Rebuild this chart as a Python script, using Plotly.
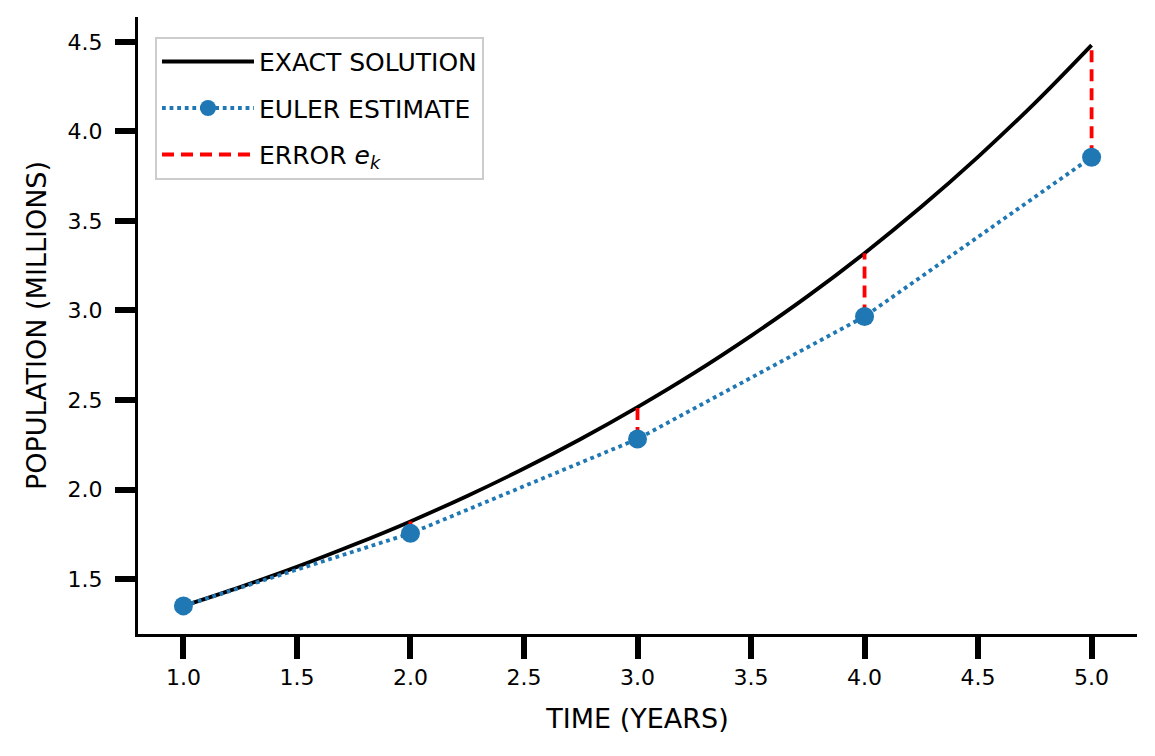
import plotly.graph_objects as go

# Exact solution
t_exact = [1.0, 1.25, 1.5, 1.75, 2.0, 2.25, 2.5, 2.75, 3.0, 3.25, 3.5, 3.75, 4.0, 4.25, 4.5, 4.75, 5.0]
p_exact = [1.35, 1.455, 1.568, 1.691, 1.822, 1.964, 2.117, 2.282, 2.460, 2.651, 2.858, 3.080, 3.320, 3.579, 3.858, 4.158, 4.482]

# Euler estimates
t_euler = [1.0, 2.0, 3.0, 4.0, 5.0]
p_euler = [1.35, 1.755, 2.282, 2.966, 3.856]

# Exact values at the Euler steps
p_exact_steps = [1.35, 1.822, 2.460, 3.320, 4.482]

x_ticks = [1.0, 1.5, 2.0, 2.5, 3.0, 3.5, 4.0, 4.5, 5.0]
y_ticks = [1.5, 2.0, 2.5, 3.0, 3.5, 4.0, 4.5]

FONT = "DejaVu Sans"

err_x, err_y = [], []
for t, pe, px in zip(t_euler[1:], p_euler[1:], p_exact_steps[1:]):
    err_x += [t, t, None]
    err_y += [pe, px, None]

fig = go.Figure()
fig.add_trace(go.Scatter(
    x=t_exact, y=p_exact, mode="lines", name="EXACT SOLUTION",
    line=dict(color="black", width=3.8, shape="spline"),
    legendrank=1, legendgroup="a"))
fig.add_trace(go.Scatter(
    x=err_x, y=err_y, mode="lines", name="ERROR <i>e</i><sub><i>k</i></sub>",
    line=dict(color="#ff0000", width=3.8, dash="12px,7px"),
    legendrank=3, legendgroup="c"))
fig.add_trace(go.Scatter(
    x=t_euler, y=p_euler, mode="lines+markers", name="EULER ESTIMATE",
    line=dict(color="#1f77b4", width=3.8, dash="dot"),
    marker=dict(color="#1f77b4", size=19),
    legendrank=2, legendgroup="b"))

# page body adds an 8px offset, so the figure is sized 8px smaller
fig.update_layout(
    width=1147, height=748,
    margin=dict(l=130, r=18, t=9, b=122),
    plot_bgcolor="white", paper_bgcolor="white",
    font=dict(family=FONT, color="black"),
    showlegend=True,
    legend=dict(
        x=0.017, y=0.968, xanchor="left", yanchor="top",
        bgcolor="white", bordercolor="#cccccc", borderwidth=2,
        font=dict(size=25, family=FONT), tracegroupgap=11,
        itemwidth=92,
    ),
    xaxis=dict(
        range=[0.8, 5.2], tickvals=x_ticks, tickformat=".1f",
        showgrid=False, zeroline=False, automargin=False,
        showline=True, linecolor="black", linewidth=3,
        ticks="outside", ticklen=22, tickwidth=6, tickcolor="black",
        tickfont=dict(size=22, family=FONT),
        title=dict(text="TIME (YEARS)", font=dict(size=27, family=FONT), standoff=20),
    ),
    yaxis=dict(
        range=[1.193, 4.639], tickvals=y_ticks, tickformat=".1f",
        showgrid=False, zeroline=False, automargin=False,
        showline=True, linecolor="black", linewidth=3,
        ticks="outside", ticklen=20, tickwidth=6, tickcolor="black",
        ticklabelstandoff=8,
        tickfont=dict(size=22, family=FONT),
        title=dict(text="POPULATION (MILLIONS)", font=dict(size=27, family=FONT), standoff=14),
    ),
)

fig.write_html("out.html")
